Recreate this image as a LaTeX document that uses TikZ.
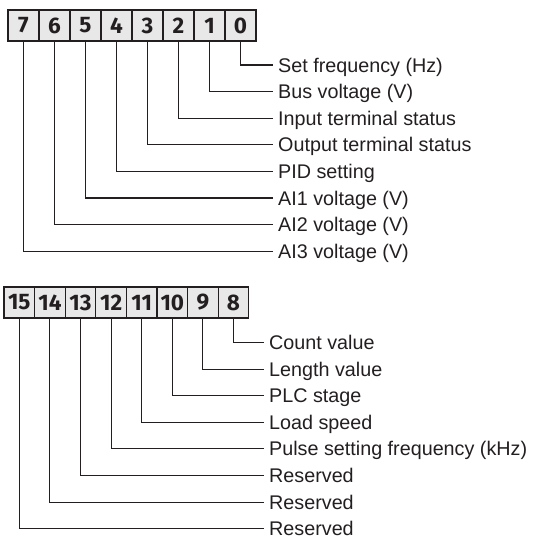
\documentclass[tikz,border=0pt]{standalone}
\usepackage{fontspec}
\setmainfont{Liberation Sans}
\newfontfamily\bitfont{Fira Sans}
\usepackage{tikz}
\usetikzlibrary{positioning}
\definecolor{inkgray}{HTML}{231F20}
\definecolor{boxfill}{HTML}{E8E8E8}

\begin{document}
\begin{tikzpicture}[
  x=1pt, y=-1pt,
  bitbox/.style={draw=inkgray, line width=1.2pt, fill=boxfill, minimum width=31pt,
                 minimum height=31pt, inner sep=0pt, text=inkgray,
                 font=\bitfont\bfseries\fontsize{22.5}{23}\selectfont},
  bitboxb/.style={bitbox, minimum width=30.6pt},
  lbl/.style={anchor=west, inner xsep=5pt, inner ysep=0pt, text height=14.1pt,
              text depth=0pt, text=inkgray, font=\fontsize{19.75}{22}\selectfont},
  lnk/.style={draw=inkgray, line width=1.1pt}
]
\useasboundingbox (0,0) rectangle (532,537);
% low byte
\node[bitbox] (b7) at (23.5,25.5)  {7};
\node[bitbox] (b6) at (54.5,25.5)  {6};
\node[bitbox] (b5) at (85.5,25.5)  {5};
\node[bitbox] (b4) at (116.5,25.5) {4};
\node[bitbox] (b3) at (147.5,25.5) {3};
\node[bitbox] (b2) at (178.5,25.5) {2};
\node[bitbox] (b1) at (209.5,25.5) {1};
\node[bitbox] (b0) at (240.5,25.5) {0};
\node[lbl] (l0) at (273,65)    {Set frequency (Hz)};
\node[lbl] (l1) at (273,91.6)  {Bus voltage (V)};
\node[lbl] (l2) at (273,118.2) {Input terminal status};
\node[lbl] (l3) at (273,144.8) {Output terminal status};
\node[lbl] (l4) at (273,171.4) {PID setting};
\node[lbl] (l5) at (273,198)   {AI1 voltage (V)};
\node[lbl] (l6) at (273,224.6) {AI2 voltage (V)};
\node[lbl] (l7) at (273,251.2) {AI3 voltage (V)};
\draw[lnk] (b0.south) |- (l0.west);
\draw[lnk] (b1.south) |- (l1.west);
\draw[lnk] (b2.south) |- (l2.west);
\draw[lnk] (b3.south) |- (l3.west);
\draw[lnk] (b4.south) |- (l4.west);
\draw[lnk] (b5.south) |- (l5.west);
\draw[lnk] (b6.south) |- (l6.west);
\draw[lnk] (b7.south) |- (l7.west);
% high byte
\node[bitboxb] (b15) at (19.3,302.5)  {15};
\node[bitboxb] (b14) at (49.9,302.5)  {14};
\node[bitboxb] (b13) at (80.5,302.5)  {13};
\node[bitboxb] (b12) at (111.1,302.5) {12};
\node[bitboxb] (b11) at (141.7,302.5) {11};
\node[bitboxb] (b10) at (172.3,302.5) {10};
\node[bitboxb] (b9) at (202.9,302.5)  {9};
\node[bitboxb] (b8) at (233.5,302.5)  {8};
\node[lbl] (l8) at (264,342.5)   {Count value};
\node[lbl] (l9) at (264,369.1)   {Length value};
\node[lbl] (l10) at (264,395.7)  {PLC stage};
\node[lbl] (l11) at (264,422.3)  {Load speed};
\node[lbl] (l12) at (264,448.9)  {Pulse setting frequency (kHz)};
\node[lbl] (l13) at (264,475.5)  {Reserved};
\node[lbl] (l14) at (264,502.1)  {Reserved};
\node[lbl] (l15) at (264,528.3)  {Reserved};
\draw[lnk] (b8.south) |- (l8.west);
\draw[lnk] (b9.south) |- (l9.west);
\draw[lnk] (b10.south) |- (l10.west);
\draw[lnk] (b11.south) |- (l11.west);
\draw[lnk] (b12.south) |- (l12.west);
\draw[lnk] (b13.south) |- (l13.west);
\draw[lnk] (b14.south) |- (l14.west);
\draw[lnk] (b15.south) |- (l15.west);
\end{tikzpicture}
\end{document}
